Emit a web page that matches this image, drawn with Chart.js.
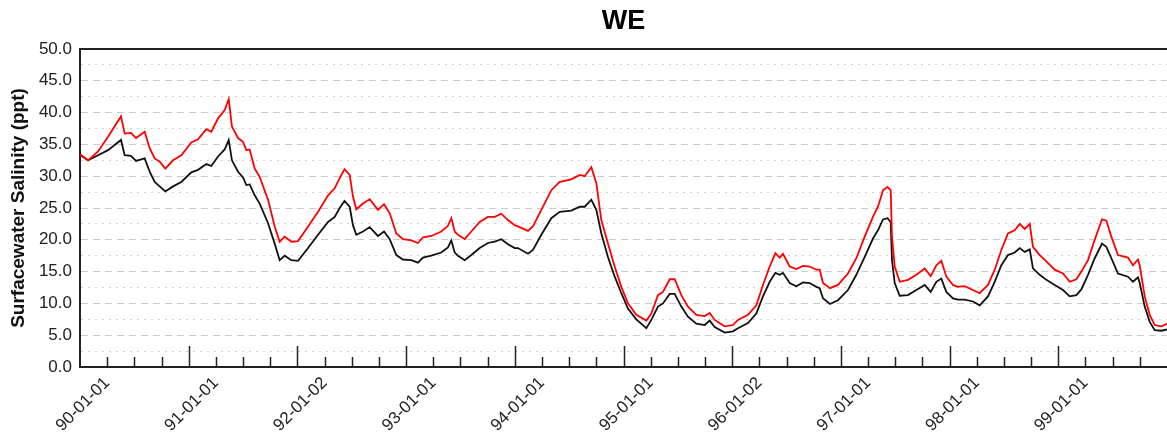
<!DOCTYPE html>
<html>
<head>
<meta charset="utf-8">
<script src="https://cdn.jsdelivr.net/npm/chart.js@4"></script>
<style>
  body { margin: 0; background: #fff; }
  #wrap { width: 1167px; height: 441px; }
</style>
</head>
<body>
<div id="wrap"><canvas id="GraficoWE" width="1167" height="441"></canvas></div>
<script>
// decimal years (water years 1990-1999, Oct 1 1989 .. Sep 30 1999)
var anos = [
  1989.750, 1989.824, 1989.916, 1990.008, 1990.127, 1990.161, 1990.219, 1990.265, 1990.345, 1990.391,
  1990.437, 1990.483, 1990.535, 1990.606, 1990.682, 1990.774, 1990.836, 1990.912, 1990.958, 1991.020,
  1991.081, 1991.118, 1991.148, 1991.204, 1991.250, 1991.280, 1991.311, 1991.357, 1991.403, 1991.480,
  1991.541, 1991.587, 1991.633, 1991.694, 1991.756,
  1991.848, 1991.940, 1992.032, 1992.093, 1992.139, 1992.183, 1992.231, 1992.261, 1992.292, 1992.354,
  1992.415, 1992.491, 1992.547, 1992.599, 1992.660, 1992.721, 1992.798, 1992.859, 1992.905, 1992.982,
  1993.074, 1993.135, 1993.166, 1993.197, 1993.227, 1993.289, 1993.350, 1993.427, 1993.503, 1993.565,
  1993.626, 1993.687, 1993.749,
  1993.779, 1993.871, 1993.917, 1993.994, 1994.086, 1994.163, 1994.270, 1994.347, 1994.393, 1994.454,
  1994.500, 1994.546, 1994.607, 1994.669, 1994.730, 1994.791, 1994.868, 1994.960, 1995.006, 1995.067,
  1995.113, 1995.175, 1995.221, 1995.282, 1995.343, 1995.420, 1995.497, 1995.543, 1995.589, 1995.681,
  1995.757,
  1995.803, 1995.895, 1995.972, 1996.033, 1996.095, 1996.147, 1996.187, 1996.217, 1996.279, 1996.340,
  1996.401, 1996.463, 1996.524, 1996.555, 1996.585, 1996.650, 1996.723, 1996.815, 1996.892, 1996.969,
  1997.045, 1997.091, 1997.137, 1997.179, 1997.208, 1997.220, 1997.245, 1997.291, 1997.367, 1997.444,
  1997.521, 1997.576, 1997.628, 1997.674, 1997.720, 1997.781,
  1997.827, 1997.889, 1997.965, 1998.027, 1998.103, 1998.165, 1998.226, 1998.287, 1998.349, 1998.395,
  1998.441, 1998.487, 1998.517, 1998.579, 1998.640, 1998.717, 1998.793, 1998.855, 1998.916, 1998.962,
  1999.023, 1999.085, 1999.152, 1999.192, 1999.238, 1999.299, 1999.391, 1999.437, 1999.483, 1999.499,
  1999.545, 1999.591, 1999.637, 1999.698, 1999.750
];

// linha vermelha
var salinidadeVermelha = [
  33.4, 32.5, 33.9, 36.2, 39.4, 36.7, 36.8, 36.0, 37.0, 34.4,
  32.8, 32.3, 31.2, 32.5, 33.3, 35.3, 35.8, 37.4, 37.0, 39.1,
  40.4, 42.1, 37.8, 36.0, 35.4, 34.1, 34.2, 31.2, 29.9, 26.3,
  22.1, 19.7, 20.5, 19.7, 19.8,
  22.1, 24.4, 27.0, 28.1, 29.7, 31.1, 30.2, 26.8, 24.8, 25.7,
  26.4, 24.7, 25.6, 24.2, 21.0, 20.1, 19.9, 19.5, 20.4, 20.6,
  21.3, 22.2, 23.4, 21.3, 20.8, 20.1, 21.3, 22.8, 23.6, 23.6,
  24.1, 23.1, 22.3,
  22.1, 21.4, 22.1, 24.7, 27.8, 29.1, 29.5, 30.2, 30.0, 31.4,
  28.9, 23.1, 19.4, 15.8, 12.6, 10.0, 8.2, 7.3, 8.4, 11.3,
  11.8, 13.8, 13.8, 11.3, 9.5, 8.2, 8.0, 8.5, 7.4, 6.4,
  6.6,
  7.4, 8.2, 9.7, 12.9, 15.8, 17.9, 17.2, 17.8, 15.8, 15.4,
  15.9, 15.8, 15.3, 15.3, 13.2, 12.4, 12.9, 14.7, 17.1, 20.5,
  23.6, 25.2, 27.8, 28.3, 27.8, 20.5, 15.8, 13.4, 13.7, 14.5,
  15.5, 14.3, 16.0, 16.7, 14.2, 12.9,
  12.6, 12.7, 12.1, 11.6, 12.9, 15.3, 18.4, 21.0, 21.5, 22.5,
  21.7, 22.5, 18.9, 17.6, 16.6, 15.3, 14.7, 13.4, 13.8, 15.0,
  16.8, 20.0, 23.2, 23.0, 20.5, 17.6, 17.2, 16.0, 16.9, 16.0,
  11.1, 8.2, 6.6, 6.4, 6.8
];

// linha preta
var salinidadePreta = [
  33.4, 32.5, 33.3, 34.1, 35.7, 33.3, 33.2, 32.4, 32.8, 30.7,
  29.1, 28.4, 27.6, 28.4, 29.1, 30.6, 31.0, 31.9, 31.6, 33.1,
  34.2, 35.7, 32.5, 30.7, 29.8, 28.6, 28.7, 27.0, 25.7, 22.6,
  19.4, 16.8, 17.5, 16.8, 16.7,
  18.7, 20.8, 22.8, 23.6, 25.0, 26.1, 25.2, 22.3, 20.8, 21.3,
  22.0, 20.6, 21.3, 20.1, 17.6, 16.9, 16.8, 16.4, 17.2, 17.5,
  18.0, 18.8, 19.9, 18.0, 17.5, 16.8, 17.6, 18.7, 19.5, 19.7,
  20.1, 19.3, 18.7,
  18.7, 17.8, 18.4, 20.8, 23.4, 24.4, 24.6, 25.2, 25.2, 26.3,
  24.7, 21.0, 17.3, 14.2, 11.6, 9.2, 7.5, 6.1, 7.4, 9.5,
  10.0, 11.5, 11.5, 9.5, 7.9, 6.8, 6.6, 7.3, 6.3, 5.4,
  5.6,
  6.1, 6.9, 8.4, 11.1, 13.4, 14.8, 14.5, 14.8, 13.2, 12.7,
  13.3, 13.2, 12.6, 12.4, 10.8, 9.9, 10.5, 12.1, 14.5, 17.3,
  20.2, 21.5, 23.2, 23.4, 22.8, 16.8, 13.2, 11.2, 11.3, 12.1,
  12.9, 11.8, 13.4, 13.9, 11.8, 10.8,
  10.6, 10.6, 10.3, 9.7, 11.1, 13.4, 16.0, 17.6, 18.0, 18.7,
  18.1, 18.5, 15.5, 14.5, 13.7, 12.9, 12.1, 11.1, 11.3, 12.2,
  14.5, 17.1, 19.4, 18.9, 17.1, 14.7, 14.2, 13.4, 14.1, 13.2,
  9.5, 7.1, 5.8, 5.7, 5.9
];

var rotulosDatas = ['90-01-01', '91-01-01', '92-01-02', '93-01-01', '94-01-01',
                    '95-01-01', '96-01-02', '97-01-01', '98-01-01', '99-01-01'];
var posicoesRotulos = [1990, 1991, 1992, 1993, 1994, 1995, 1996, 1997, 1998, 1999];
var marcasMaiores = [1990.75, 1991.75, 1992.75, 1993.75, 1994.75, 1995.75, 1996.75, 1997.75, 1998.75];
var marcasMenores = [];
for (var a = 1990; a < 1999.75; a++) {
    marcasMenores.push(a, a + 0.25, a + 0.5);
}

function JuntarPontos(xs, ys) {
    var pontos = [];
    var indice = 0;
    while (indice < xs.length) {
        pontos.push({ x: xs[indice], y: ys[indice] });
        indice++;
    }
    return pontos;
}

// marcas do eixo x para dentro do grafico (maiores em outubro, menores por trimestre)
var pluginMarcas = {
    id: 'marcasEixoX',
    afterDatasetsDraw: function (chart) {
        var ctx = chart.ctx;
        var escala = chart.scales.x;
        var base = chart.chartArea.bottom;
        ctx.save();
        ctx.strokeStyle = '#222';
        ctx.lineWidth = 1.5;
        ctx.beginPath();
        marcasMaiores.forEach(function (v) {
            var px = Math.round(escala.getPixelForValue(v)) + 0.5;
            ctx.moveTo(px, base);
            ctx.lineTo(px, base - 21);
        });
        marcasMenores.forEach(function (v) {
            var px = Math.round(escala.getPixelForValue(v)) + 0.5;
            ctx.moveTo(px, base);
            ctx.lineTo(px, base - 10);
        });
        ctx.stroke();
        ctx.restore();
    }
};

var fonte = "'Liberation Sans', Arial, sans-serif";

new Chart(document.getElementById('GraficoWE'), {
    type: 'line',
    data: {
        datasets: [{
            label: 'Vermelha',
            data: JuntarPontos(anos, salinidadeVermelha),
            borderColor: '#ff0000',
            borderWidth: 1.8,
            pointRadius: 0,
            fill: false
        }, {
            label: 'Preta',
            data: JuntarPontos(anos, salinidadePreta),
            borderColor: '#111111',
            borderWidth: 1.8,
            pointRadius: 0,
            fill: false
        }]
    },
    options: {
        responsive: false,
        animation: false,
        layout: { padding: 0 },
        plugins: {
            legend: { display: false },
            tooltip: { enabled: false },
            title: {
                display: true,
                text: 'WE',
                fullSize: false,
                color: '#000',
                font: { family: fonte, size: 27, weight: 'bold' },
                padding: { top: 5, bottom: 11.6 }
            }
        },
        scales: {
            x: {
                type: 'linear',
                min: 1989.75,
                max: 1999.75,
                afterBuildTicks: function (escala) {
                    escala.ticks = posicoesRotulos.map(function (v) { return { value: v }; });
                },
                afterFit: function (escala) { escala.height = 74; },
                ticks: {
                    autoSkip: false,
                    maxRotation: 45,
                    minRotation: 45,
                    padding: 6,
                    color: '#222',
                    font: { family: fonte, size: 17 },
                    callback: function (valor, indice) { return rotulosDatas[indice]; }
                },
                grid: { drawOnChartArea: false, drawTicks: false },
                border: { color: '#222', width: 2 }
            },
            y: {
                min: 0,
                max: 50,
                afterFit: function (escala) { escala.width = 80; },
                ticks: {
                    stepSize: 2.5,
                    autoSkip: false,
                    maxTicksLimit: 40,
                    padding: 8,
                    color: '#222',
                    font: { family: fonte, size: 17 },
                    callback: function (valor) {
                        return (valor % 5 === 0) ? valor.toFixed(1) : '';
                    }
                },
                grid: {
                    drawTicks: false,
                    color: function (c) {
                        if (!c.tick) return '#ccc';
                        if (c.tick.value === 50 || c.tick.value === 0) return '#222';
                        return (c.tick.value % 5 === 0) ? '#cccccc' : '#d0d0d0';
                    },
                    lineWidth: function (c) {
                        if (c.tick && c.tick.value === 50) return 2;
                        return 1;
                    }
                },
                border: {
                    color: '#222',
                    width: 2,
                    dash: function (c) {
                        if (!c.tick || c.tick.value === 50 || c.tick.value === 0) return [];
                        return (c.tick.value % 5 === 0) ? [7, 5] : [2, 5];
                    }
                },
                title: {
                    display: true,
                    text: 'Surfacewater Salinity (ppt)',
                    color: '#111',
                    font: { family: fonte, size: 19, weight: 'bold' },
                    padding: { top: 7, bottom: 0 }
                }
            }
        }
    },
    plugins: [pluginMarcas]
});
</script>
</body>
</html>
